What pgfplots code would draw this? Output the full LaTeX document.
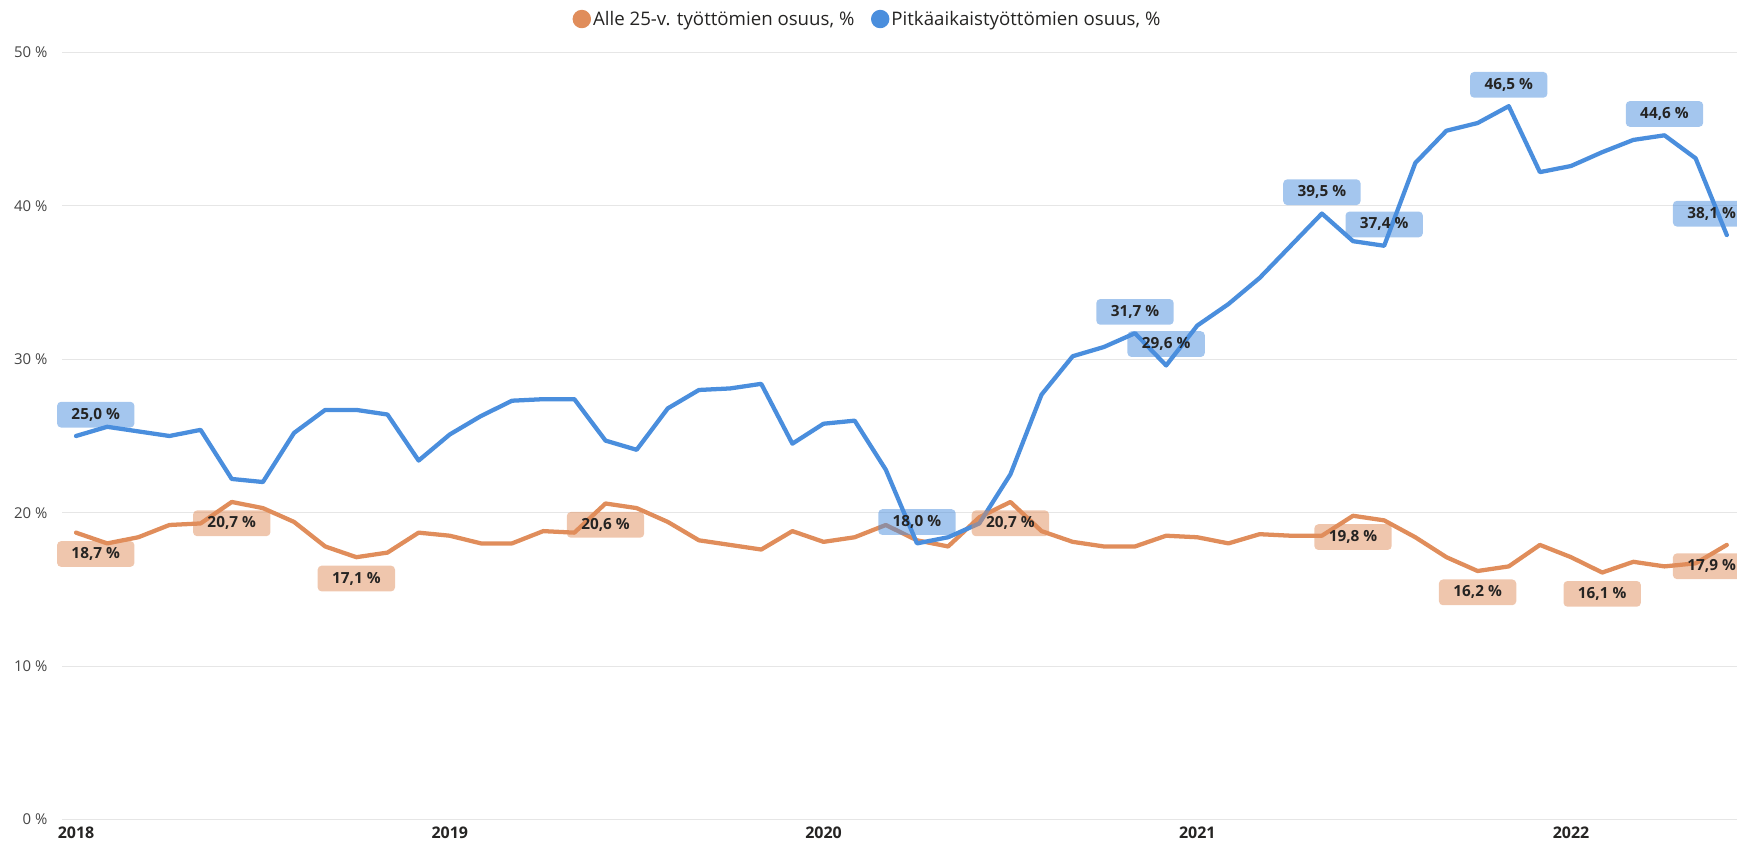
\documentclass[border=0pt]{standalone}
\usepackage{fontspec}
\setmainfont{Open Sans}
\usepackage{pgfplots}
\usepackage{pgfplotstable}
\pgfplotsset{compat=1.18}
\definecolor{cOr}{HTML}{E08D5B}
\definecolor{cBl}{HTML}{4A8EDD}
\definecolor{cGrid}{HTML}{E6E6E6}
\definecolor{cTxt}{HTML}{252423}
\definecolor{cTick}{HTML}{454545}

% month index (0 = 1/2018), share under 25 y, share long-term unemployed
\pgfplotstableread{
x  young long
0  18.7 25.0
1  18.0 25.6
2  18.4 25.3
3  19.2 25.0
4  19.3 25.4
5  20.7 22.2
6  20.3 22.0
7  19.4 25.2
8  17.8 26.7
9  17.1 26.7
10 17.4 26.4
11 18.7 23.4
12 18.5 25.1
13 18.0 26.3
14 18.0 27.3
15 18.8 27.4
16 18.7 27.4
17 20.6 24.7
18 20.3 24.1
19 19.4 26.8
20 18.2 28.0
21 17.9 28.1
22 17.6 28.4
23 18.8 24.5
24 18.1 25.8
25 18.4 26.0
26 19.2 22.8
27 18.2 18.0
28 17.8 18.4
29 19.7 19.3
30 20.7 22.5
31 18.8 27.7
32 18.1 30.2
33 17.8 30.8
34 17.8 31.7
35 18.5 29.6
36 18.4 32.2
37 18.0 33.6
38 18.6 35.3
39 18.5 37.4
40 18.5 39.5
41 19.8 37.7
42 19.5 37.4
43 18.4 42.8
44 17.1 44.9
45 16.2 45.4
46 16.5 46.5
47 17.9 42.2
48 17.1 42.6
49 16.1 43.5
50 16.8 44.3
51 16.5 44.6
52 16.7 43.1
53 17.9 38.1
}\shares

\pgfplotsset{
  lbl/.style={nodes near coords, point meta=explicit symbolic,
    nodes near coords style={anchor=center, fill=#1, fill opacity=0.5, text opacity=1,
      text=cTxt, rounded corners=3pt, minimum width=58pt, minimum height=19.3pt,
      inner sep=0pt, font=\fontsize{11.5}{13}\selectfont\bfseries}},
}

\begin{document}
\begin{tikzpicture}
\useasboundingbox (0,0) rectangle (1302.75pt,632.25pt);
\begin{axis}[
  at={(46.5pt,17.6pt)}, anchor=south west,
  scale only axis, width=1256.25pt, height=575.3pt,
  xmin=-0.45, xmax=53.33, ymin=0, ymax=50, clip=false,
  axis line style={draw=none}, major tick length=0pt,
  ymajorgrids, grid style={cGrid, line width=0.75pt},
  ytick={0,10,...,50}, yticklabels={0 \%,10 \%,20 \%,30 \%,40 \%,50 \%},
  xtick={0,12,24,36,48}, xticklabels={2018,2019,2020,2021,2022},
  yticklabel style={font=\fontsize{11.2}{13}\selectfont, text=cTick,
    anchor=east, inner sep=0pt, xshift=-10.8pt},
  xticklabel style={font=\fontsize{12}{14}\selectfont\bfseries, text=cTxt,
    anchor=north, inner sep=0pt, yshift=-5.6pt},
  legend style={at={(0.4809,1.0436)}, anchor=center, draw=none, fill=none,
    legend columns=2, font=\fontsize{14}{16}\selectfont, text=cTxt,
    inner sep=0pt, /tikz/every even column/.append style={column sep=11pt},
    nodes={inner sep=1.5pt}},
  legend image code/.code={\fill[#1] (5.3pt,0pt) circle (5.3pt);},
]
\addplot[cOr, line width=3.2pt, line join=round, line cap=round, mark=none]
  table[x=x, y=young] {\shares};
\addlegendentry{Alle 25-v. työttömien osuus, \%}
\addplot[cBl, line width=3.2pt, line join=round, line cap=round, mark=none]
  table[x=x, y=long] {\shares};
\addlegendentry{Pitkäaikaistyöttömien osuus, \%}

% data labels, orange below the line
\addplot[draw=none, mark=none, forget plot, lbl=cOr,
  nodes near coords style={yshift=-16pt}] coordinates {
  (5,20.7)[20,7 \%] (9,17.1)[17,1 \%] (17,20.6)[20,6 \%] (30,20.7)[20,7 \%]
  (41,19.8)[19,8 \%] (45,16.2)[16,2 \%] (49,16.1)[16,1 \%]};
\addplot[draw=none, mark=none, forget plot, lbl=cOr,
  nodes near coords style={yshift=-16pt, xshift=14.8pt}] coordinates {
  (0,18.7)[18,7 \%]};
\addplot[draw=none, mark=none, forget plot, lbl=cOr,
  nodes near coords style={yshift=-16pt, xshift=-11.4pt}] coordinates {
  (53,17.9)[17,9 \%]};
% data labels, blue above the line
\addplot[draw=none, mark=none, forget plot, lbl=cBl,
  nodes near coords style={yshift=16pt}] coordinates {
  (27,18.0)[18,0 \%] (34,31.7)[31,7 \%] (35,29.6)[29,6 \%] (40,39.5)[39,5 \%]
  (42,37.4)[37,4 \%] (46,46.5)[46,5 \%] (51,44.6)[44,6 \%]};
\addplot[draw=none, mark=none, forget plot, lbl=cBl,
  nodes near coords style={yshift=16pt, xshift=14.8pt}] coordinates {
  (0,25.0)[25,0 \%]};
\addplot[draw=none, mark=none, forget plot, lbl=cBl,
  nodes near coords style={yshift=16pt, xshift=-11.4pt}] coordinates {
  (53,38.1)[38,1 \%]};
\end{axis}
\end{tikzpicture}
\end{document}
